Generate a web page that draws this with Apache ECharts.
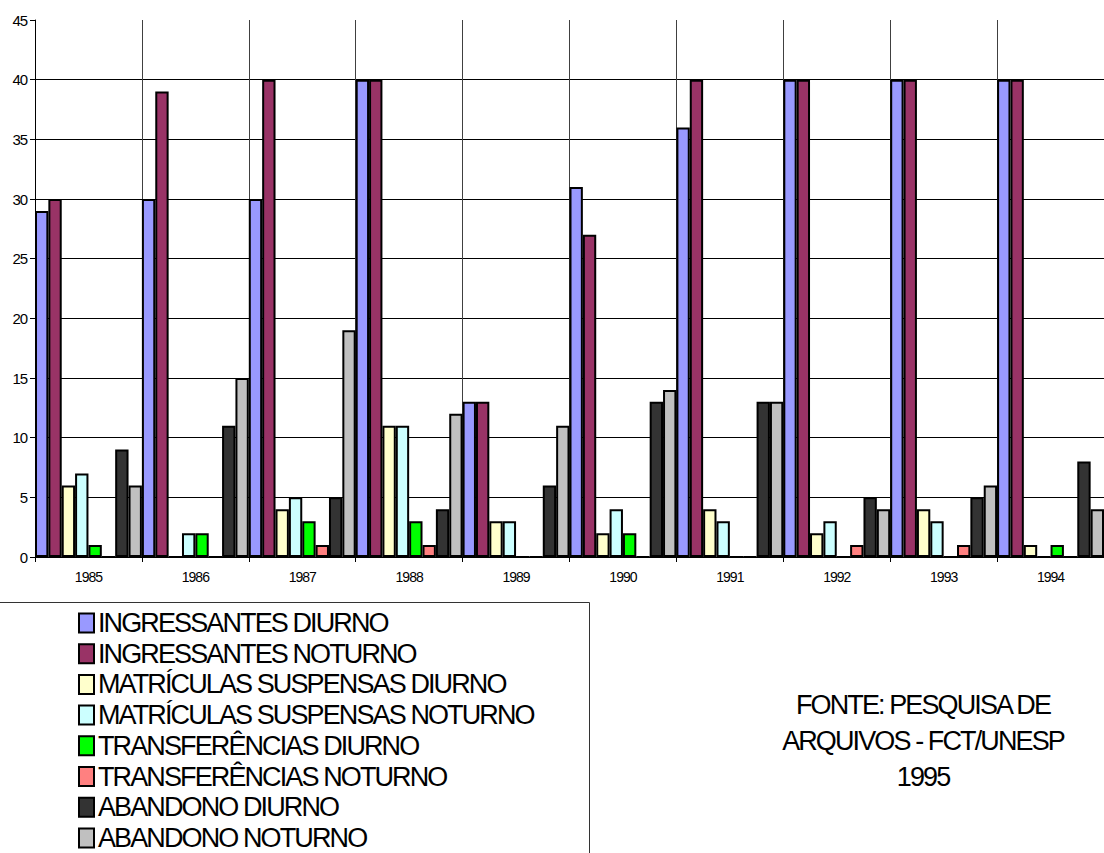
<!DOCTYPE html>
<html>
<head>
<meta charset="utf-8">
<script src="https://cdn.jsdelivr.net/npm/echarts@6/dist/echarts.min.js"></script>
<style>
  html, body { margin: 0; padding: 0; background: #fff; }
  #chart { width: 1104px; height: 853px; }
  /* Narrow Arial-like lettering used throughout the chart */
  #chart text { letter-spacing: -0.07em; }
</style>
</head>
<body>
<div id="chart"></div>
<script>
// Categories (years) and series values
const years = ['1985', '1986', '1987', '1988', '1989', '1990', '1991', '1992', '1993', '1994'];

const ingressantesDiurno       = [29, 30, 30, 40, 13, 31, 36, 40, 40, 40];
const ingressantesNoturno      = [30, 39, 40, 40, 13, 27, 40, 40, 40, 40];
const matriculasSuspDiurno     = [6, 0, 4, 11, 3, 2, 4, 2, 4, 1];
const matriculasSuspNoturno    = [7, 2, 5, 11, 3, 4, 3, 3, 3, 0];
const transferenciasDiurno     = [1, 2, 3, 3, 0, 2, 0, 0, 0, 1];
const transferenciasNoturno    = [0, 0, 1, 1, 0, 0, 0, 1, 1, 0];
const abandonoDiurno           = [9, 11, 5, 4, 6, 13, 13, 5, 5, 8];
const abandonoNoturno          = [6, 15, 19, 12, 11, 14, 13, 4, 6, 4];

const seriesNames = [
  'INGRESSANTES DIURNO',
  'INGRESSANTES NOTURNO',
  'MATRÍCULAS SUSPENSAS DIURNO',
  'MATRÍCULAS SUSPENSAS NOTURNO',
  'TRANSFERÊNCIAS DIURNO',
  'TRANSFERÊNCIAS NOTURNO',
  'ABANDONO DIURNO',
  'ABANDONO NOTURNO'
];
const seriesData = [
  ingressantesDiurno, ingressantesNoturno,
  matriculasSuspDiurno, matriculasSuspNoturno,
  transferenciasDiurno, transferenciasNoturno,
  abandonoDiurno, abandonoNoturno
];
const seriesColors = ['#9999FF', '#993366', '#FFFFCC', '#CCFFFF', '#00FF00', '#FF8080', '#333333', '#C0C0C0'];

const sourceNote = 'FONTE: PESQUISA DE\nARQUIVOS - FCT/UNESP\n1995';

const FONT = '"Liberation Sans", Arial, sans-serif';

const chart = echarts.init(document.getElementById('chart'), null, { renderer: 'svg' });

chart.setOption({
  animation: false,
  backgroundColor: '#fff',
  grid: { left: 35, top: 20, width: 1077, height: 537, containLabel: false },
  xAxis: {
    type: 'category',
    data: years,
    boundaryGap: true,
    axisLine: { show: true, lineStyle: { color: '#000', width: 1 } },
    axisTick: { show: true, interval: 0, length: 5, lineStyle: { color: '#000' } },
    axisLabel: { interval: 0, color: '#000', fontFamily: FONT, fontSize: 14, margin: 13 },
    splitLine: { show: true, interval: 0, lineStyle: { color: '#404040', width: 1 } }
  },
  yAxis: {
    type: 'value',
    min: 0,
    max: 45,
    interval: 5,
    axisLine: { show: true, lineStyle: { color: '#000', width: 1 } },
    axisTick: { show: true, length: 5, lineStyle: { color: '#000' } },
    axisLabel: { color: '#000', fontFamily: FONT, fontSize: 15, margin: 8 },
    splitLine: { show: true, showMaxLine: false, lineStyle: { color: '#000', width: 1 } }
  },
  legend: {
    orient: 'vertical',
    left: 78,
    top: 609.5,
    height: 300,
    padding: 0,
    itemGap: 3.7,
    itemWidth: 15,
    itemHeight: 19,
    icon: 'rect',
    selectedMode: false,
    itemStyle: { borderColor: '#000', borderWidth: 2 },
    textStyle: { color: '#000', fontFamily: FONT, fontSize: 27, padding: [0, 0, 0, -1] },
    data: seriesNames
  },
  graphic: [
    {
      type: 'rect',
      silent: true,
      shape: { x: -10, y: 602.5, width: 599.5, height: 300 },
      style: { fill: 'none', stroke: '#333', lineWidth: 1 }
    },
    {
      type: 'text',
      silent: true,
      x: 923,
      y: 687,
      style: {
        text: sourceNote,
        fill: '#000',
        font: '27px ' + FONT,
        lineHeight: 36,
        align: 'center',
        verticalAlign: 'top'
      }
    }
  ],
  series: seriesNames.map((name, i) => ({
    name: name,
    type: 'bar',
    data: seriesData[i],
    barGap: '0%',
    barCategoryGap: '0%',
    itemStyle: { color: seriesColors[i], borderColor: '#000', borderWidth: 2 },
    emphasis: { disabled: true }
  }))
});
</script>
</body>
</html>
